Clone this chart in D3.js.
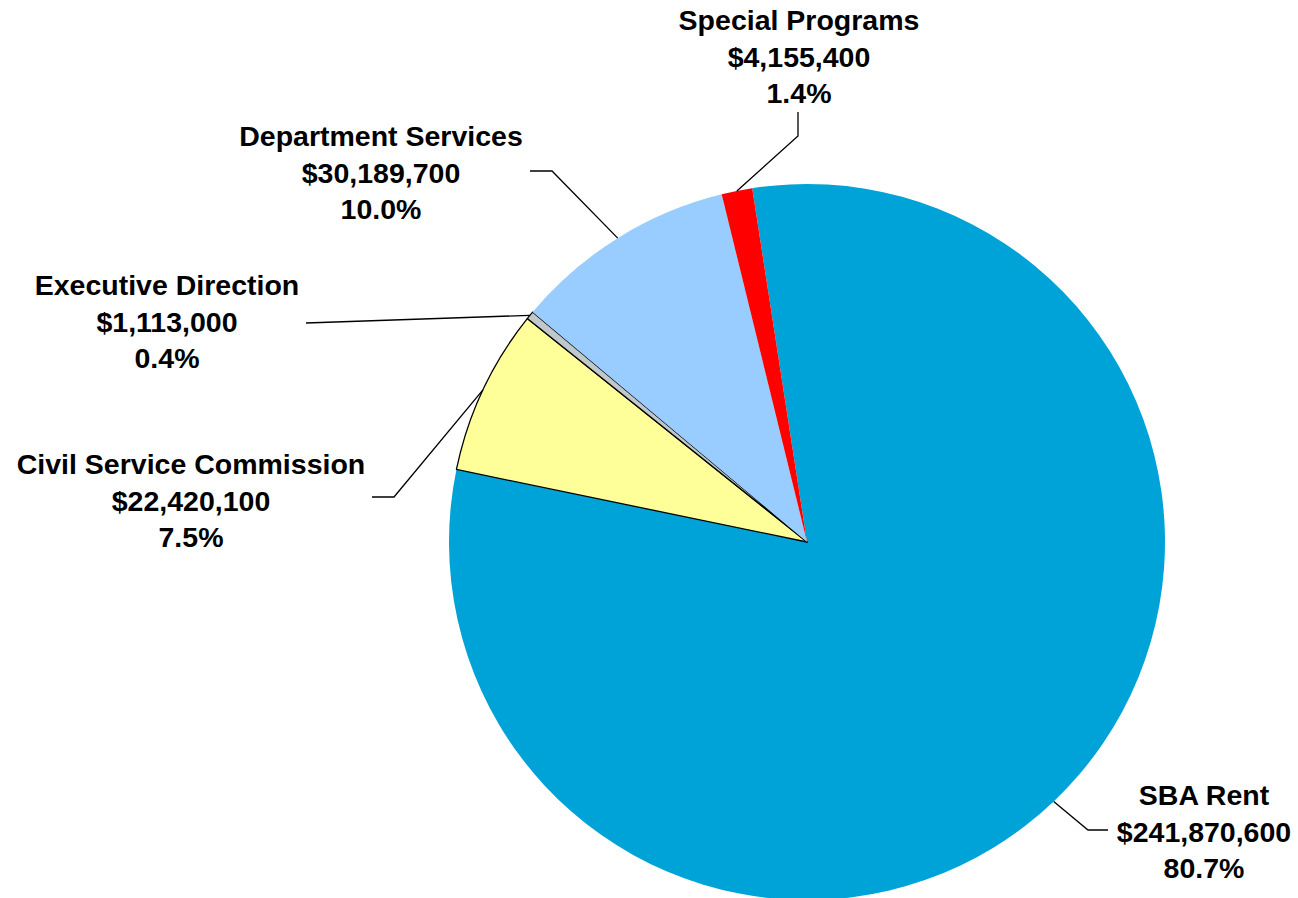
<!DOCTYPE html>
<html>
<head>
<meta charset="utf-8">
<script src="https://cdn.jsdelivr.net/npm/d3@7"></script>
<style>
  html, body { margin: 0; padding: 0; background: #fff; }
  svg { display: block; }
  text { font-family: "Liberation Sans", Arial, sans-serif; font-weight: bold; fill: #000; }
</style>
</head>
<body>
<svg id="chart" width="1298" height="898"></svg>
<script>
// ---- data ----
const categories = ["SBA Rent", "Civil Service Commission", "Executive Direction", "Department Services", "Special Programs"];
const values = [241870600, 22420100, 1113000, 30189700, 4155400];
const percentLabels = ["80.7%", "7.5%", "0.4%", "10.0%", "1.4%"];

// ---- styles / layout ----
const colors = ["#00A3D7", "#FFFF99", "#C0C8CC", "#99CCFF", "#FF0000"];
const outlined = [false, true, true, false, false];
const cx = 807, cy = 542, R = 358;
const rotation = -8.8 * Math.PI / 180;
// label centre x, first baseline y, and leader elbow points (layout only)
const labelLayout = [
  { x: 1204, y: 805, path: [[1088, 830], [1108, 830]] },
  { x: 191,  y: 474, path: [[394, 497], [372, 497]] },
  { x: 167,  y: 295, path: [[306, 323]] },
  { x: 381,  y: 146, path: [[552, 171], [530, 171]] },
  { x: 799,  y: 30,  path: [[798, 136], [798, 112]] }
];
const lineH = 36.5;

const svg = d3.select("#chart");
const g = svg.append("g").attr("transform", `translate(${cx},${cy})`);

const pie = d3.pie().sort(null).value(d => d)
  .startAngle(rotation).endAngle(rotation + 2 * Math.PI);
const arcs = pie(values);
const arc = d3.arc().innerRadius(0).outerRadius(R);

g.selectAll("path.slice").data(arcs).enter().append("path")
  .attr("class", "slice")
  .attr("d", arc)
  .attr("fill", (d, i) => colors[i])
  .attr("stroke", (d, i) => outlined[i] ? "#000" : "none")
  .attr("stroke-width", 1.3)
  .attr("stroke-linejoin", "round");

const fmt = d3.format("$,");

// leader lines
arcs.forEach((a, i) => {
  const mid = (a.startAngle + a.endAngle) / 2;
  const p0 = [cx + R * Math.sin(mid), cy - R * Math.cos(mid)];
  const pts = [p0].concat(labelLayout[i].path);
  svg.append("path")
    .attr("d", d3.line()(pts))
    .attr("fill", "none")
    .attr("stroke", "#000")
    .attr("stroke-width", 1.3);
});

// labels
arcs.forEach((a, i) => {
  const L = labelLayout[i];
  const t = svg.append("text")
    .attr("text-anchor", "middle")
    .attr("font-size", "28.5px");
  [categories[i], fmt(values[i]), percentLabels[i]].forEach((s, k) => {
    t.append("tspan").attr("x", L.x).attr("y", L.y + k * lineH).text(s);
  });
});
</script>
</body>
</html>
